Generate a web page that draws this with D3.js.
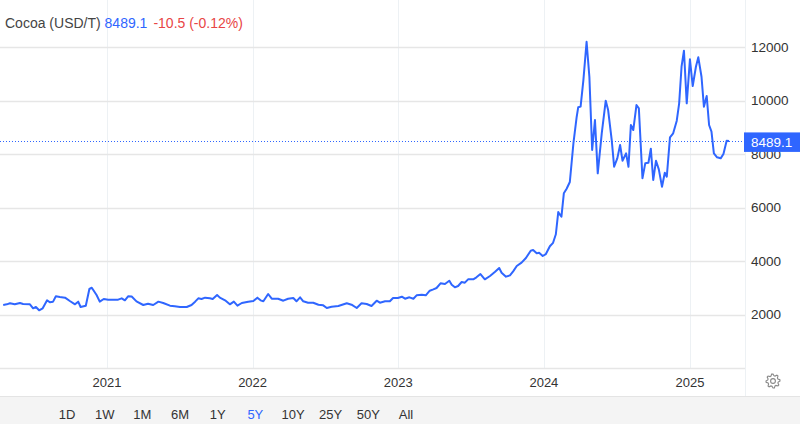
<!DOCTYPE html>
<html>
<head>
<meta charset="utf-8">
<script src="https://cdn.jsdelivr.net/npm/d3@7"></script>
<style>
  body { margin: 0; background: #fff; }
  text { font-family: "Liberation Sans", Arial, Helvetica, sans-serif; }
</style>
</head>
<body>
<div id="chart"></div>
<script>
// data
var dates = ["2020-04-16","2020-04-25","2020-05-03","2020-05-15","2020-05-28","2020-06-05","2020-06-22","2020-06-30",
  "2020-07-07","2020-07-15","2020-07-24","2020-08-04","2020-08-11","2020-08-19","2020-08-26","2020-09-05","2020-09-18",
  "2020-09-30","2020-10-13","2020-10-21","2020-10-27","2020-11-09","2020-11-18","2020-11-24","2020-12-06","2020-12-14",
  "2020-12-24","2021-01-04","2021-01-29","2021-02-07","2021-02-15","2021-02-23","2021-03-04","2021-03-16","2021-04-02",
  "2021-04-14","2021-04-27","2021-05-10","2021-05-22","2021-06-08","2021-06-20","2021-07-03","2021-07-20","2021-08-01",
  "2021-08-10","2021-08-18","2021-08-26","2021-09-04","2021-09-16","2021-09-23","2021-10-04","2021-10-11","2021-10-24",
  "2021-11-05","2021-11-15","2021-11-24","2021-12-05","2021-12-21","2022-01-03","2022-01-13","2022-01-21","2022-01-28",
  "2022-02-09","2022-02-18","2022-03-06","2022-03-19","2022-03-31","2022-04-13","2022-04-21","2022-04-30","2022-05-08",
  "2022-05-20","2022-06-02","2022-06-15","2022-06-27","2022-07-06","2022-07-18","2022-08-04","2022-08-25","2022-09-06",
  "2022-09-19","2022-10-01","2022-10-14","2022-10-26","2022-11-08","2022-11-16","2022-11-29","2022-12-11","2022-12-19",
  "2022-12-31","2023-01-10","2023-01-18","2023-01-29","2023-02-08","2023-02-16","2023-03-01","2023-03-11","2023-03-21",
  "2023-03-30","2023-04-07","2023-04-17","2023-04-28","2023-05-09","2023-05-15","2023-05-23","2023-05-31","2023-06-09",
  "2023-06-17","2023-06-25","2023-07-08","2023-07-16","2023-07-26","2023-08-06","2023-08-19","2023-08-31","2023-09-11",
  "2023-09-17","2023-09-28","2023-10-08","2023-10-16","2023-10-25","2023-11-06","2023-11-17","2023-11-29","2023-12-05",
  "2023-12-14","2023-12-20","2023-12-29","2024-01-06","2024-01-16","2024-01-24","2024-01-31","2024-02-06","2024-02-08",
  "2024-02-14","2024-02-20","2024-02-27","2024-03-06","2024-03-15","2024-03-23","2024-03-27","2024-04-02","2024-04-09",
  "2024-04-17","2024-04-24","2024-05-01","2024-05-08","2024-05-15","2024-05-25","2024-06-04","2024-06-10","2024-06-19",
  "2024-06-25","2024-07-03","2024-07-10","2024-07-16","2024-07-25","2024-07-31","2024-08-06","2024-08-12","2024-08-20",
  "2024-08-26","2024-09-04","2024-09-11","2024-09-19","2024-09-25","2024-10-01","2024-10-08","2024-10-15","2024-10-23",
  "2024-10-30","2024-11-04","2024-11-12","2024-11-20","2024-11-29","2024-12-05","2024-12-11","2024-12-17","2024-12-24",
  "2025-01-01","2025-01-08","2025-01-16","2025-01-22","2025-01-30","2025-02-05","2025-02-12","2025-02-18","2025-02-24",
  "2025-03-02","2025-03-10","2025-03-19","2025-03-26","2025-04-03","2025-04-09"];

var prices = [2355,2380,2418,2380,2430,2392,2380,2231,
  2280,2157,2231,2530,2456,2480,2680,2654,2630,
  2505,2380,2480,2280,2330,2953,3000,2729,2480,
  2580,2555,2555,2605,2530,2680,2670,2490,2355,
  2405,2355,2480,2430,2330,2306,2280,2280,2355,
  2480,2605,2580,2630,2605,2580,2729,2630,2530,
  2380,2480,2330,2430,2480,2505,2630,2530,2493,
  2766,2590,2590,2516,2590,2617,2493,2642,2493,
  2441,2441,2366,2343,2243,2291,2318,2418,2366,
  2243,2418,2393,2318,2516,2441,2493,2493,2617,
  2617,2665,2590,2642,2590,2717,2741,2717,2890,
  2940,2990,3166,3140,3263,3115,3016,3065,3215,
  3190,3315,3315,3390,3513,3315,3440,3589,3738,
  3563,3414,3464,3614,3813,3937,4112,4385,4410,
  4286,4310,4187,4260,4550,4680,5000,5830,5780,
  5656,6530,6702,6953,8400,9371,9745,9770,10765,
  12197,10889,8149,9270,7277,8773,9992,9644,8523,
  7525,7838,8336,7749,8025,7525,9083,8897,9831,
  9707,7091,7652,7674,8200,7027,7749,7427,6777,
  7300,7151,8624,8773,9244,9894,11263,11861,9894,
  11539,10541,11263,11614,10889,9770,10168,9083,8835,
  8025,7876,7838,8000,8497,8489.1];

var lastPrice = 8489.1;
var change = "-10.5 (-0.12%)";
var yTicks = [2000, 4000, 6000, 8000, 10000, 12000];
var yearTicks = ["2021-01-01", "2022-01-01", "2023-01-01", "2024-01-01", "2025-01-01"];
var ranges = ["1D", "1W", "1M", "6M", "1Y", "5Y", "10Y", "25Y", "50Y", "All"];
var activeRange = "5Y";

var W = 800, H = 424;
var plotW = 745, plotH = 368;
var blue = "#2f66ff";

var parse = d3.timeParse("%Y-%m-%d");
var data = dates.map(function (d, i) { return { date: parse(d), value: prices[i] }; });

var svg = d3.select("#chart").append("svg")
    .attr("width", W)
    .attr("height", H);

// scales
var x = d3.scaleTime()
    .domain([parse("2020-04-08"), parse("2025-05-19")])
    .range([0, plotW]);
var y = d3.scaleLinear()
    .domain([0, 12000])
    .range([plotH, 47]);

// vertical grid
svg.append("g").selectAll("line")
    .data(yearTicks)
    .enter().append("line")
    .attr("x1", function (d) { return Math.round(x(parse(d))) + 0.5; })
    .attr("x2", function (d) { return Math.round(x(parse(d))) + 0.5; })
    .attr("y1", 0)
    .attr("y2", plotH)
    .style("stroke", "#edf1f4")
    .style("stroke-width", 1);

// horizontal grid
svg.append("g").selectAll("line")
    .data(yTicks)
    .enter().append("line")
    .attr("x1", 0)
    .attr("x2", plotW)
    .attr("y1", function (d) { return Math.round(y(d)) + 0.5; })
    .attr("y2", function (d) { return Math.round(y(d)) + 0.5; })
    .style("stroke", "#e6e6e6")
    .style("stroke-width", 1.5);

// bottom line & right separator
svg.append("line")
    .attr("x1", 0).attr("x2", plotW)
    .attr("y1", plotH + 0.5).attr("y2", plotH + 0.5)
    .style("stroke", "#e6e6e6").style("stroke-width", 1.5);
svg.append("line")
    .attr("x1", plotW + 0.5).attr("x2", plotW + 0.5)
    .attr("y1", 0).attr("y2", 396)
    .style("stroke", "#edf1f4");

// y labels (the 8000 one sits partly under the price tag, as in the original)
svg.append("g").selectAll("text")
    .data(yTicks)
    .enter().append("text")
    .attr("x", 751)
    .attr("y", function (d) { return y(d); })
    .attr("dy", "0.35em")
    .style("font-size", "13.5px")
    .style("fill", "#333")
    .text(function (d) { return d; });

// year labels
svg.append("g").selectAll("text")
    .data(yearTicks)
    .enter().append("text")
    .attr("x", function (d) { return x(parse(d)); })
    .attr("y", 382)
    .attr("dy", "0.35em")
    .attr("text-anchor", "middle")
    .style("font-size", "13px")
    .style("fill", "#333")
    .text(function (d) { return d.slice(0, 4); });

// last price dotted line
svg.append("line")
    .attr("x1", 0).attr("x2", plotW)
    .attr("y1", Math.round(y(lastPrice)) + 0.5)
    .attr("y2", Math.round(y(lastPrice)) + 0.5)
    .style("stroke", blue)
    .style("stroke-width", 1)
    .style("stroke-dasharray", "1,2");

// price line
var line = d3.line()
    .x(function (d) { return x(d.date); })
    .y(function (d) { return y(d.value); });
svg.append("path")
    .datum(data)
    .attr("d", line)
    .style("fill", "none")
    .style("stroke", blue)
    .style("stroke-width", 2)
    .style("stroke-linejoin", "round");

// price tag
svg.append("rect")
    .attr("x", plotW - 1)
    .attr("y", y(lastPrice) - 8.5)
    .attr("width", W - plotW + 1)
    .attr("height", 19.5)
    .style("fill", blue);
svg.append("text")
    .attr("x", 751)
    .attr("y", y(lastPrice) + 1)
    .attr("dy", "0.35em")
    .style("font-size", "13.5px")
    .style("fill", "#fff")
    .text(d3.format(".1f")(lastPrice));

// title
var title = svg.append("text")
    .attr("x", 5)
    .attr("y", 28)
    .style("font-size", "14px");
title.append("tspan").style("fill", "#444").text("Cocoa (USD/T) ");
title.append("tspan").style("fill", blue).text(d3.format(".1f")(lastPrice));
title.append("tspan").style("fill", "#e84545").attr("dx", 6).text(change);

// gear icon
var gear = svg.append("g").attr("transform", "translate(773,381)");
var pts = [];
for (var i = 0; i < 32; i++) {
    var a = (i / 32) * 2 * Math.PI;
    var r = (Math.floor((i + 1) / 2) % 2 === 0) ? 7 : 5.3;
    pts.push([r * Math.cos(a), r * Math.sin(a)]);
}
gear.append("path")
    .attr("d", d3.line().curve(d3.curveLinearClosed)(pts))
    .style("fill", "none")
    .style("stroke", "#888")
    .style("stroke-width", 1.1);
gear.append("circle")
    .attr("r", 2.4)
    .style("fill", "none")
    .style("stroke", "#888")
    .style("stroke-width", 1.1);

// range bar
svg.append("rect")
    .attr("x", 0).attr("y", 396)
    .attr("width", W).attr("height", H - 396)
    .style("fill", "#f4f4f4");
svg.append("line")
    .attr("x1", 0).attr("x2", W)
    .attr("y1", 396.5).attr("y2", 396.5)
    .style("stroke", "#e4e4e4");

var rangeX = d3.scalePoint().domain(ranges).range([67, 406]);
svg.append("g").selectAll("text")
    .data(ranges)
    .enter().append("text")
    .attr("x", function (d) { return rangeX(d); })
    .attr("y", 414)
    .attr("dy", "0.35em")
    .attr("text-anchor", "middle")
    .style("font-size", "13px")
    .style("fill", function (d) { return d === activeRange ? blue : "#333"; })
    .text(function (d) { return d; });
</script>
</body>
</html>
